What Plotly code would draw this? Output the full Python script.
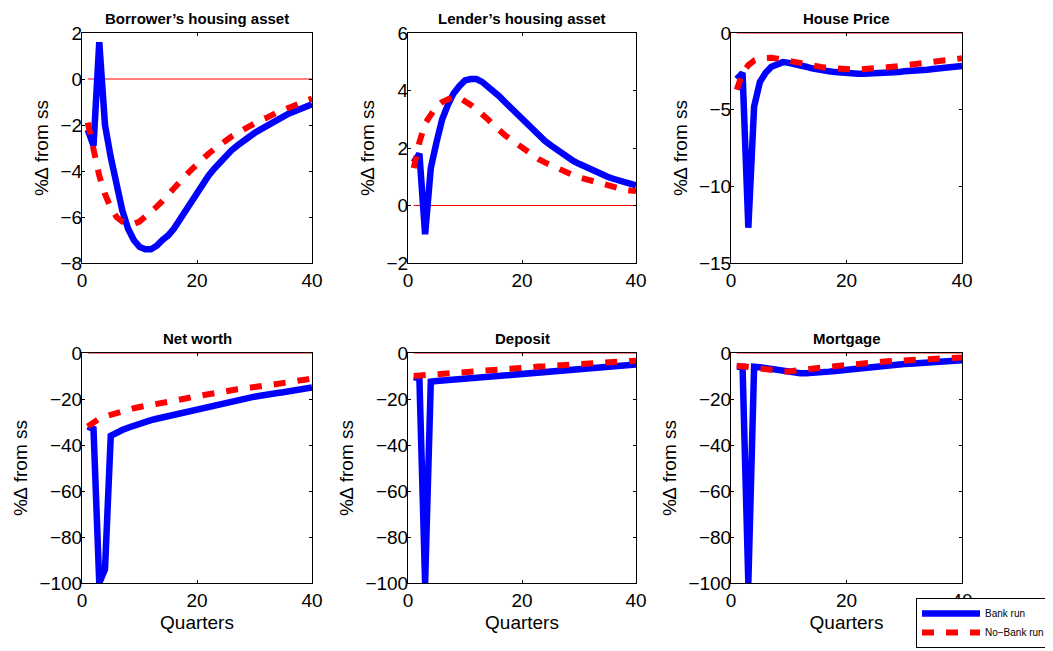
import plotly.graph_objects as go

quarters = list(range(1, 41))

titles = ["Borrower’s housing asset", "Lender’s housing asset", "House Price",
          "Net worth", "Deposit", "Mortgage"]
series_names = ["Bank run", "No−Bank run"]
y_label = "%∆ from ss"
x_label = "Quarters"

borrower_run = [-2.2, -2.9, 1.6, -2.0, -3.4, -4.6, -5.7, -6.5, -7.0, -7.3,
                -7.4, -7.4, -7.25, -7.0, -6.8, -6.5, -6.1, -5.7, -5.3, -4.9,
                -4.5, -4.2, -3.9, -3.6, -3.35, -3.1, -2.9, -2.7, -2.5, -2.35,
                -2.2, -2.05, -1.9, -1.75, -1.65, -1.5, -1.4, -1.3, -1.2, -1.1]
borrower_norun = [-1.9, -3.1, -4.2, -5.0, -5.6, -6.0, -6.2, -6.3, -6.3, -6.2,
                  -6.0, -5.8, -5.55, -5.3, -5.0, -4.75, -4.5, -4.2, -3.95, -3.7,
                  -3.45, -3.25, -3.05, -2.85, -2.65, -2.5, -2.35, -2.2, -2.05, -1.9,
                  -1.8, -1.7, -1.55, -1.45, -1.35, -1.25, -1.15, -1.05, -0.95, -0.85]

lender_run = [1.5, 1.8, -1.0, 1.3, 2.2, 3.0, 3.5, 3.9, 4.15, 4.35,
              4.4, 4.4, 4.3, 4.15, 4.0, 3.8, 3.6, 3.4, 3.2, 3.0,
              2.8, 2.6, 2.4, 2.25, 2.1, 1.95, 1.8, 1.65, 1.55, 1.45,
              1.35, 1.25, 1.15, 1.08, 1.0, 0.93, 0.87, 0.8, 0.75, 0.7]
lender_norun = [1.3, 2.2, 2.85, 3.2, 3.45, 3.6, 3.72, 3.78, 3.75, 3.65,
                3.5, 3.35, 3.2, 3.0, 2.8, 2.6, 2.45, 2.3, 2.15, 2.0,
                1.85, 1.72, 1.6, 1.5, 1.4, 1.3, 1.2, 1.12, 1.05, 0.98,
                0.92, 0.86, 0.8, 0.75, 0.7, 0.65, 0.6, 0.55, 0.52, 0.5]

price_run = [-3.0, -2.6, -12.7, -4.8, -3.2, -2.6, -2.2, -2.0, -1.9, -1.95,
             -2.0, -2.1, -2.2, -2.3, -2.4, -2.45, -2.5, -2.55, -2.6, -2.6,
             -2.65, -2.65, -2.65, -2.65, -2.65, -2.65, -2.6, -2.6, -2.55, -2.5,
             -2.5, -2.45, -2.4, -2.4, -2.35, -2.3, -2.3, -2.25, -2.2, -2.15]
price_norun = [-3.7, -2.6, -2.1, -1.8, -1.65, -1.6, -1.62, -1.67, -1.75, -1.82,
               -1.9, -1.98, -2.05, -2.12, -2.18, -2.24, -2.28, -2.32, -2.35, -2.37,
               -2.38, -2.38, -2.37, -2.35, -2.32, -2.28, -2.24, -2.2, -2.15, -2.1,
               -2.06, -2.02, -1.98, -1.94, -1.9, -1.85, -1.8, -1.75, -1.7, -1.65]

networth_run = [-32, -33, -100, -94, -36, -34.5, -33.5, -32.5, -31.5, -30.5,
                -29.8, -29.2, -28.6, -28.0, -27.4, -26.8, -26.2, -25.6, -25.0, -24.3,
                -23.8, -23.3, -22.7, -22.1, -21.6, -21.0, -20.5, -20.0, -19.5, -19.0,
                -18.6, -18.0, -17.7, -17.4, -17.1, -16.8, -16.4, -16.0, -15.5, -15.0]
networth_norun = [-32, -30, -28.6, -27.6, -26.8, -26.2, -25.4, -24.6, -24.0, -23.5,
                  -23.1, -22.6, -22.2, -21.7, -21.2, -20.8, -20.3, -19.8, -19.2, -18.7,
                  -18.2, -17.7, -17.3, -16.8, -16.4, -16.1, -15.8, -15.5, -15.3, -14.9,
                  -14.5, -14.1, -13.8, -13.5, -13.2, -12.9, -12.6, -12.1, -11.5, -11.0]

deposit_run = [-10.5, -11, -100, -12.5, -12.2, -12.0, -11.8, -11.5, -11.2, -11.0,
               -10.7, -10.5, -10.2, -10.0, -9.8, -9.5, -9.3, -9.0, -8.8, -8.5,
               -8.3, -8.1, -7.9, -7.7, -7.5, -7.3, -7.1, -6.9, -6.7, -6.5,
               -6.3, -6.1, -5.9, -5.8, -5.6, -5.5, -5.4, -5.2, -5.1, -5.0]
deposit_norun = [-10, -9.8, -9.6, -9.3, -9.0, -8.7, -8.5, -8.3, -8.1, -8.0,
                 -7.9, -7.8, -7.7, -7.6, -7.4, -7.2, -7.0, -6.8, -6.6, -6.4,
                 -6.2, -6.1, -5.9, -5.8, -5.6, -5.4, -5.3, -5.1, -4.9, -4.7,
                 -4.6, -4.5, -4.4, -4.3, -4.1, -3.9, -3.7, -3.6, -3.5, -3.4]

mortgage_run = [-6, -6, -100, -6, -6.2, -6.6, -7.1, -7.6, -8.1, -8.5,
                -8.7, -8.8, -8.8, -8.8, -8.7, -8.4, -8.1, -7.8, -7.5, -7.2,
                -6.9, -6.6, -6.3, -6.0, -5.8, -5.6, -5.4, -5.2, -5.0, -4.8,
                -4.7, -4.5, -4.3, -4.1, -4.0, -3.8, -3.7, -3.5, -3.4, -3.2]
mortgage_norun = [-5.5, -5.6, -5.9, -6.3, -6.7, -7.1, -7.5, -7.8, -8.0, -8.0,
                  -7.8, -7.5, -7.2, -6.9, -6.6, -6.3, -6.0, -5.7, -5.4, -5.1,
                  -4.9, -4.6, -4.4, -4.2, -4.0, -3.8, -3.6, -3.5, -3.3, -3.2,
                  -3.0, -2.9, -2.7, -2.6, -2.5, -2.4, -2.3, -2.2, -2.1, -2.0]

zero_line = [0] * 40

y_ranges = [[-8, 2], [-2, 6], [-15, 0], [-100, 0], [-100, 0], [-100, 0]]
y_dticks = [2, 2, 5, 20, 20, 20]

runs = [borrower_run, lender_run, price_run, networth_run, deposit_run, mortgage_run]
noruns = [borrower_norun, lender_norun, price_norun, networth_norun, deposit_norun, mortgage_norun]

# The page body has an 8px margin, so the figure is sized and laid out to
# land at the reference's window coordinates.
OFF = 8
W, H = 1053 - OFF, 651 - OFF
col_px = [(82, 312), (408, 636), (731, 962)]
row_px = [(33, 263), (353, 583)]

FONT = "Liberation Sans, Arial, Helvetica, sans-serif"

fig = go.Figure()
annotations = []
for i in range(6):
    r, c = divmod(i, 3)
    idx = i + 1
    xa = "x" if idx == 1 else f"x{idx}"
    ya = "y" if idx == 1 else f"y{idx}"
    fig.add_trace(go.Scatter(x=quarters, y=zero_line, mode="lines",
                             line=dict(color="#ff0000", width=1.2),
                             showlegend=False, hoverinfo="skip",
                             xaxis=xa, yaxis=ya))
    fig.add_trace(go.Scatter(x=quarters, y=runs[i], mode="lines",
                             name=series_names[0],
                             line=dict(color="#0000ff", width=6.5),
                             showlegend=(i == 0), legendrank=1,
                             xaxis=xa, yaxis=ya))
    fig.add_trace(go.Scatter(x=quarters, y=noruns[i], mode="lines",
                             name=series_names[1],
                             line=dict(color="#ff0000", width=6, dash="12px,12px"),
                             showlegend=(i == 0), legendrank=2,
                             xaxis=xa, yaxis=ya))
    x0, x1 = col_px[c]
    y0, y1 = row_px[r]
    x0 -= OFF; x1 -= OFF; y0 -= OFF; y1 -= OFF
    xdom = [x0 / W, x1 / W]
    ydom = [(H - y1) / H, (H - y0) / H]
    axis_common = dict(showline=True, linecolor="black", linewidth=1, mirror="ticks",
                       ticks="inside", ticklen=3, tickcolor="black", showgrid=False,
                       zeroline=False, automargin=False,
                       tickfont=dict(family=FONT, size=19, color="black"))
    xkey = "xaxis" if idx == 1 else f"xaxis{idx}"
    ykey = "yaxis" if idx == 1 else f"yaxis{idx}"
    xaxis = dict(domain=xdom, range=[0, 40], tickmode="linear", tick0=0, dtick=20,
                 anchor=ya, **axis_common)
    if r == 1:
        xaxis["title"] = dict(text=x_label, font=dict(family=FONT, size=19, color="black"),
                              standoff=5)
    yaxis = dict(domain=ydom, range=y_ranges[i], tickmode="linear", tick0=0,
                 dtick=y_dticks[i], anchor=xa, ticklabelstandoff=-5,
                 title=dict(text=y_label, font=dict(family=FONT, size=19, color="black"),
                            standoff=6),
                 **axis_common)
    fig.layout[xkey] = xaxis
    fig.layout[ykey] = yaxis
    annotations.append(dict(text=f"<b>{titles[i]}</b>", xref="paper", yref="paper",
                            x=(xdom[0] + xdom[1]) / 2, y=ydom[1], xanchor="center",
                            yanchor="bottom", yshift=4, showarrow=False,
                            font=dict(family=FONT, size=15, color="black")))

fig.update_layout(
    width=W, height=H,
    margin=dict(l=0, r=0, t=0, b=0, pad=0, autoexpand=False),
    paper_bgcolor="white", plot_bgcolor="white",
    annotations=annotations,
    showlegend=True,
    legend=dict(x=(1050 - OFF) / W, y=(651 - 648) / H, xanchor="right", yanchor="bottom",
                bgcolor="white", bordercolor="black", borderwidth=1,
                font=dict(family=FONT, size=10, color="black"),
                itemwidth=58, tracegroupgap=0),
)

fig.write_html("out.html")
